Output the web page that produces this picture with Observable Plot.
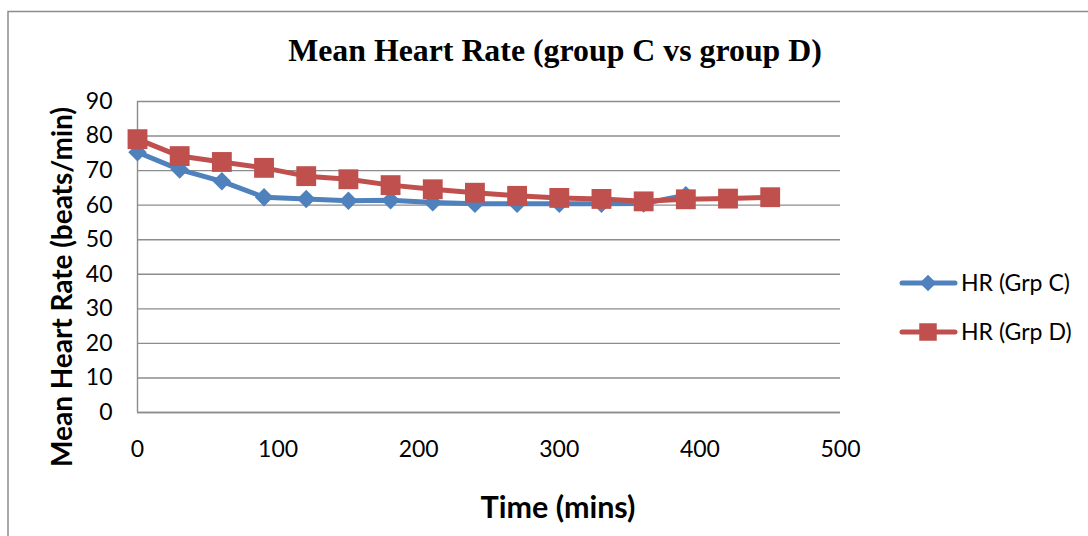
<!DOCTYPE html>
<html><head><meta charset="utf-8">
<script src="https://cdn.jsdelivr.net/npm/d3@7"></script>
<script src="https://cdn.jsdelivr.net/npm/@observablehq/plot@0.6"></script>
<style>
html,body{margin:0;padding:0;background:#fff;}
#wrap{position:relative;width:1088px;height:536px;overflow:hidden;background:#fff;}
#wrap svg{position:absolute;left:0;top:0;}
</style></head><body><div id="wrap"></div>
<script>
const titleText = "Mean Heart Rate (group C vs group D)";
const xLabel = "Time (mins)";
const yLabel = "Mean Heart Rate (beats/min)";
const seriesNames = ["HR (Grp C)", "HR (Grp D)"];
const timeMins = [0,30,60,90,120,150,180,210,240,270,300,330,360,390,420,450];
const hrGrpC = [75.3,70.3,66.9,62.3,61.8,61.3,61.4,60.8,60.4,60.4,60.4,60.4,60.5,62.9];
const hrGrpD = [79.1,74.2,72.5,70.8,68.4,67.5,65.8,64.6,63.6,62.7,62.1,61.8,61.1,61.7,61.9,62.3];
const xTicks = [0,100,200,300,400,500];
const yTicks = [0,10,20,30,40,50,60,70,80,90];

const colors = ["#4F81BD", "#C0504D"];
const gray = "#8c8c8c";

const rowsC = hrGrpC.map((v,i)=>({t:timeMins[i], hr:v}));
const rowsD = hrGrpD.map((v,i)=>({t:timeMins[i], hr:v}));

const chart = Plot.plot({
  width:1088, height:536,
  marginLeft:137, marginRight:248, marginTop:101, marginBottom:124,
  style:{fontFamily:"Lato, sans-serif", fontSize:"23px", color:"#000", background:"transparent", overflow:"visible"},
  x:{domain:[0,500]},
  y:{domain:[0,90]},
  marks:[
    Plot.gridY(yTicks, {stroke:gray, strokeOpacity:1, strokeWidth:1.4}),
    Plot.ruleX([0], {stroke:gray, strokeWidth:1.4}),
    Plot.ruleY([0], {stroke:gray, strokeWidth:1.6}),
    Plot.axisX(xTicks, {tickSize:0, tickPadding:28, label:null, fontSize:23}),
    Plot.axisY(yTicks, {tickSize:0, tickPadding:25, label:null, fontSize:23}),
    Plot.line(rowsC, {x:"t", y:"hr", stroke:colors[0], strokeWidth:5, strokeLinejoin:"round", strokeLinecap:"round"}),
    Plot.dot(rowsC, {x:"t", y:"hr", symbol:"diamond2", r:8.3, fill:colors[0]}),
    Plot.line(rowsD, {x:"t", y:"hr", stroke:colors[1], strokeWidth:5, strokeLinejoin:"round", strokeLinecap:"round"}),
    Plot.dot(rowsD, {x:"t", y:"hr", symbol:"square", r:11.2, fill:colors[1]})
  ]
});
const wrap = document.getElementById("wrap");
wrap.appendChild(chart);

// text fitting helper
const ctx = document.createElement("canvas").getContext("2d");
function fit(text, weight, family, target){
  ctx.font = `${weight} 100px ${family}`;
  return 100 * target / ctx.measureText(text).width;
}

const ov = d3.select(wrap).append("svg")
  .attr("width",1088).attr("height",536)
  .style("pointer-events","none");

// frame border
ov.append("path").attr("d","M8,536V11.5H1088").attr("fill","none").attr("stroke",gray).attr("stroke-width",1.5);

// title
ov.append("text").text(titleText)
  .attr("x",555).attr("y",61).attr("text-anchor","middle")
  .style("font-family","'Liberation Serif', serif").style("font-weight","bold")
  .style("font-size", fit(titleText,"bold","'Liberation Serif'",534)+"px");

// x label
ov.append("text").text(xLabel)
  .attr("x",558).attr("y",518).attr("text-anchor","middle")
  .style("font-family","Lato, sans-serif").style("font-weight","bold")
  .style("font-size", fit(xLabel,"bold","Lato",155)+"px");

// y label
ov.append("text").text(yLabel)
  .attr("transform","translate(72,287) rotate(-90)").attr("text-anchor","middle")
  .style("font-family","Lato, sans-serif").style("font-weight","bold")
  .style("font-size", fit(yLabel,"bold","Lato",360)+"px");

// legend
const legFont = fit(seriesNames[0],"normal","Lato",109);
const legY = [283, 332];
const legSym = [d3.symbol(d3.symbolDiamond2, Math.PI*7.4*7.4), d3.symbol(d3.symbolSquare, 17.5*17.5)];
seriesNames.forEach((name,i)=>{
  const g = ov.append("g");
  g.append("line").attr("x1",902).attr("x2",955).attr("y1",legY[i]).attr("y2",legY[i])
    .attr("stroke",colors[i]).attr("stroke-width",5).attr("stroke-linecap","round");
  g.append("path").attr("d",legSym[i]()).attr("transform",`translate(928,${legY[i]})`).attr("fill",colors[i]);
  g.append("text").text(name).attr("x",961).attr("y",legY[i]+8)
    .style("font-family","Lato, sans-serif").style("font-size",legFont+"px");
});
</script></body></html>
